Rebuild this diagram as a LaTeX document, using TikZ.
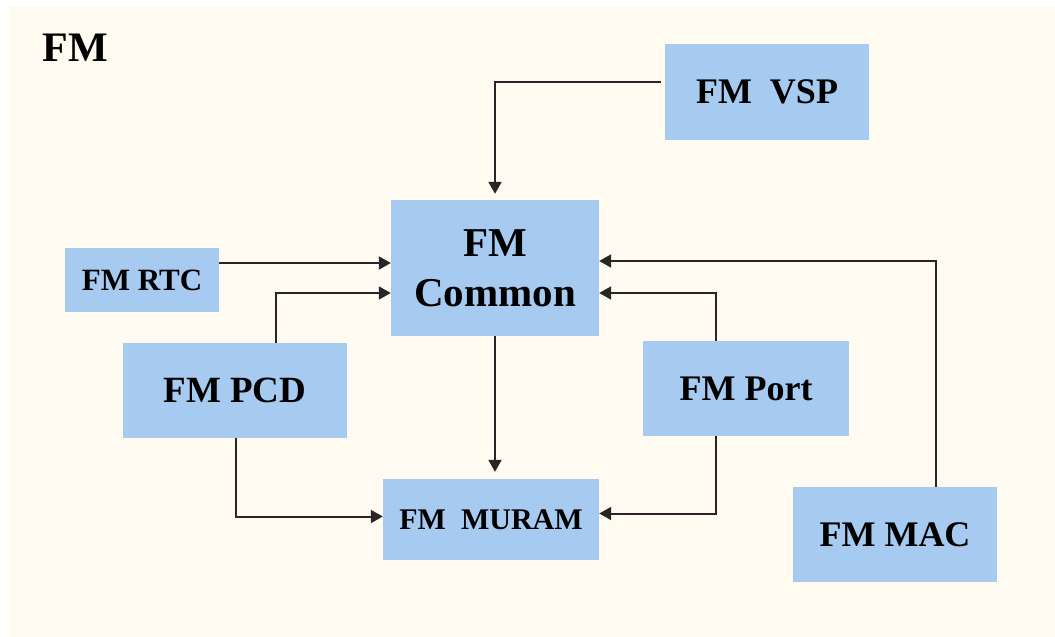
\documentclass[tikz,border=0pt]{standalone}
\usepackage{fontspec}
\setmainfont{Liberation Serif}
\usepackage{tikz}
\usetikzlibrary{arrows.meta}
\definecolor{fmback}{HTML}{FFFBF0}
\definecolor{fmblue}{HTML}{A6CAF0}
\definecolor{fmline}{HTML}{262626}

\begin{document}
\begin{tikzpicture}[x=1pt, y=-1pt, every node/.style={font=\bfseries},
  block/.style={fill=fmblue, inner sep=0pt, align=center},
  link/.style={draw=fmline, line width=2pt, -{Triangle[length=12pt,width=13pt]}}]
  \useasboundingbox (0,0) rectangle (1055,637);
  \fill[fmback] (9,6) rectangle (1055,637);
  \node (title) at (75,48) {\fontsize{42}{46}\selectfont FM};
  \node[block, minimum width=208pt, minimum height=136pt, font=\bfseries\fontsize{41}{50}\selectfont] (common) at (495,268) {FM\\Common};
  \node[block, minimum width=204pt, minimum height=96pt, font=\bfseries\fontsize{36}{40}\selectfont] (vsp) at (767,92) {FM\ \ VSP};
  \node[block, minimum width=154pt, minimum height=64pt, font=\bfseries\fontsize{31}{34}\selectfont] (rtc) at (142,280) {FM RTC};
  \node[block, minimum width=224pt, minimum height=95pt, font=\bfseries\fontsize{37}{40}\selectfont] (pcd) at (235,390.5) {FM PCD};
  \node[block, minimum width=216pt, minimum height=81pt, font=\bfseries\fontsize{30}{34}\selectfont] (muram) at (491,519.5) {FM\ \ MURAM};
  \node[block, minimum width=206pt, minimum height=95pt, font=\bfseries\fontsize{36}{40}\selectfont] (port) at (746,388.5) {FM Port};
  \node[block, minimum width=204pt, minimum height=95pt, font=\bfseries\fontsize{36}{40}\selectfont] (mac) at (895,534.5) {FM MAC};
  \draw[link, shorten <=4pt, shorten >=6pt] ([yshift=10pt]vsp.west) -| (common.north);
  \draw[link] ([yshift=17pt]rtc.east) -- ([yshift=5pt]common.west);
  \draw[link] ([xshift=41pt]pcd.north) |- ([yshift=-25pt]common.west);
  \draw[link, shorten >=7pt] (common.south) -- (common.south |- muram.north);
  \draw[link] ([xshift=1pt]pcd.south) |- ([yshift=3pt]muram.west);
  \draw[link] ([xshift=-30pt]port.south) |- ([yshift=6pt]muram.east);
  \draw[link] ([xshift=-30pt]port.north) |- ([yshift=-25pt]common.east);
  \draw[link] ([xshift=41pt]mac.north) |- ([yshift=7pt]common.east);
\end{tikzpicture}
\end{document}
